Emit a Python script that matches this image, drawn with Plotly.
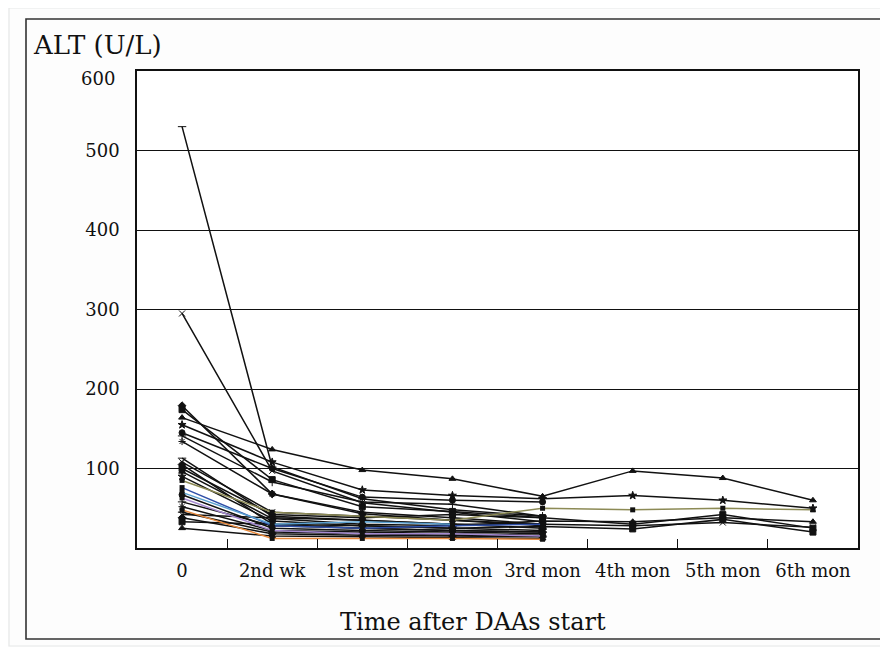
import plotly.graph_objects as go

categories = ["0", "2nd wk", "1st mon", "2nd mon", "3rd mon", "4th mon", "5th mon", "6th mon"]
y_tick_values = [100, 200, 300, 400, 500]
y_top_label = "600"

# ALT values (U/L) per patient; None = not measured
black_series = [
    [530, 102, 62, 48, 40, None, None, None],
    [295, 97, 57, 45, 33, None, None, None],
    [179, 68, 43, 35, 30, None, None, None],
    [174, 86, 52, 46, 38, None, None, None],
    [164, 124, 98, 87, 65, 97, 88, 60],
    [155, 108, 73, 66, 62, 66, 60, 50],
    [145, 100, 64, 60, 58, None, None, None],
    [141, 83, 58, 55, 40, None, None, None],
    [134, 68, 45, 38, 30, None, None, None],
    [113, 40, 35, 30, 25, None, None, None],
    [108, 45, 40, 35, 28, None, None, None],
    [105, 30, 25, 22, 20, None, None, None],
    [100, 42, 38, 42, 38, 30, 42, 25],
    [96, 37, 30, 28, 34, 33, 38, 33],
    [90, 34, 28, 25, 22, None, None, None],
    [67, 25, 22, 20, 18, None, None, None],
    [58, 28, 25, 22, 20, None, None, None],
    [52, 22, 20, 18, 16, None, None, None],
    [45, 20, 18, 16, 15, None, None, None],
    [42, 38, 35, 30, 30, 28, 32, 26],
    [38, 18, 16, 15, 14, None, None, None],
    [33, 30, 28, 25, 27, 24, 36, 20],
    [25, 15, 14, 13, 12, None, None, None],
]
blue_series = [76, 28, 25, 28, 30, None, None, None]
purple_series = [63, 22, 18, 18, 15, None, None, None]
orange_series = [48, 12, 12, 12, 11, None, None, None]
olive_series = [85, 45, 40, 35, 50, 48, 50, 48]
lightblue_series = [70, 30, 33, 30, None, None, None, None]

symbols = ["line-ew", "x-thin", "diamond", "square", "triangle-up", "star", "circle", "cross-thin", "asterisk"]

fig = go.Figure()
for i, vals in enumerate(black_series):
    fig.add_trace(go.Scatter(
        x=categories, y=vals, mode="lines+markers",
        line=dict(color="#111111", width=1.5),
        marker=dict(symbol=symbols[i % len(symbols)], size=6, color="#111111",
                    line=dict(color="#111111", width=1)),
        showlegend=False, connectgaps=False))

for vals, col in [(blue_series, "#2f4fa8"), (purple_series, "#a58ad0"),
                  (orange_series, "#e8883a"), (olive_series, "#8c8a55"),
                  (lightblue_series, "#5aa0d0")]:
    fig.add_trace(go.Scatter(
        x=categories, y=vals, mode="lines+markers",
        line=dict(color=col, width=1.5),
        marker=dict(symbol="square", size=5, color="#111111"),
        showlegend=False, connectgaps=False))

# page body has an 8px margin: screen coordinate = figure coordinate + 8
OFF = 8
W, H = 880, 639
L, R, T, B = 137 - OFF, 858 - OFF, 71 - OFF, 548 - OFF

def px(x):  # screen x -> paper
    return (x - OFF - L) / (R - L)

def py(y):  # screen y -> paper
    return (B - (y - OFF)) / (B - T)

font_family = "DejaVu Serif"

fig.update_layout(
    width=W, height=H,
    margin=dict(l=L, r=W - R, t=T, b=H - B),
    paper_bgcolor="#fdfdfd", plot_bgcolor="#ffffff",
    font=dict(family=font_family, color="#111111"),
    xaxis=dict(type="category", categoryorder="array", categoryarray=categories,
               range=[-0.5, 7.5], tickson="boundaries", ticks="inside", ticklen=9,
               tickcolor="#111111", tickwidth=1.2,
               showline=True, linecolor="#111111", linewidth=1.5, mirror=True,
               showgrid=False, zeroline=False,
               tickfont=dict(size=18, family=font_family), ticklabelstandoff=6),
    yaxis=dict(range=[0, 600], tickvals=y_tick_values, ticks="inside", ticklen=9,
               tickcolor="#111111", tickwidth=1.2,
               showline=True, linecolor="#111111", linewidth=1.5, mirror=True,
               showgrid=True, gridcolor="#111111", gridwidth=1.4, zeroline=False,
               tickfont=dict(size=18, family=font_family), ticklabelstandoff=12),
    annotations=[
        dict(text="ALT (U/L)", xref="paper", yref="paper", x=px(31), y=py(45),
             xanchor="left", yanchor="middle", showarrow=False,
             font=dict(size=26, family=font_family, color="#111111")),
        dict(text=y_top_label, xref="paper", yref="paper", x=px(117), y=py(79),
             xanchor="right", yanchor="middle", showarrow=False,
             font=dict(size=18, family=font_family, color="#111111")),
        dict(text="Time after DAAs start", xref="paper", yref="paper", x=px(473), y=py(622),
             xanchor="center", yanchor="middle", showarrow=False,
             font=dict(size=24, family=font_family, color="#111111")),
    ],
    shapes=[
        dict(type="rect", xref="paper", yref="paper", x0=px(9), y0=py(646), x1=px(890), y1=py(8),
             line=dict(color="#e6e8e8", width=1.2), layer="below"),
        dict(type="rect", xref="paper", yref="paper", x0=px(26), y0=py(639), x1=px(884), y1=py(19),
             line=dict(color="#333333", width=1.6), layer="below"),
    ],
)

fig.write_html("out.html")
